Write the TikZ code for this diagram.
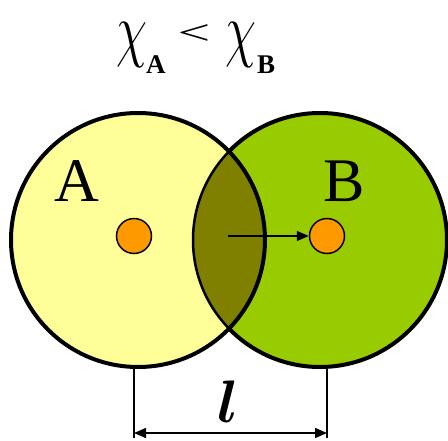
\RequirePackage{fix-cm}
\documentclass[tikz,border=0pt]{standalone}
\usepackage{amsmath}
\usepackage{fontspec}
\setmainfont{Liberation Serif}
\usetikzlibrary{arrows.meta,positioning}
\definecolor{paleyellow}{HTML}{FFFF99}
\definecolor{leafgreen}{HTML}{99CC00}
\definecolor{olivebrown}{HTML}{808000}
\definecolor{dotorange}{HTML}{FF9900}

\begin{document}
\begin{tikzpicture}[x=1pt,y=-1pt,
  nucleus/.style={circle, draw, fill=dotorange, line width=1.5pt, minimum size=35pt, inner sep=0pt},
  bigletter/.style={font=\fontsize{62}{62}\selectfont, inner sep=0pt},
  chiletter/.style={font=\fontsize{72}{72}\selectfont, inner sep=3pt, anchor=base west},
  subletter/.style={font=\fontsize{27}{27}\selectfont\bfseries, inner sep=0pt, anchor=base west},
  >={Triangle[length=12pt,width=10pt]}]
  \useasboundingbox (0,0) rectangle (448,440);
  % circle centres
  \coordinate (cA) at (138,240);
  \coordinate (cB) at (320,240);
  \fill[paleyellow] (cA) circle (127pt);
  \fill[leafgreen] (cB) circle (127pt);
  % overlap
  \begin{scope}
    \clip (cA) circle (127pt);
    \fill[olivebrown] (cB) circle (127pt);
    \draw[line width=2.5pt] (cB) circle (127pt);
  \end{scope}
  \begin{scope}[even odd rule]
    \clip (-20,-20) rectangle (470,460) (cA) circle (127pt);
    \draw[line width=4pt] (cB) circle (127pt);
  \end{scope}
  \draw[line width=4pt] (cA) circle (127pt);
  % atoms
  \node[nucleus] (nucA) at (134,236) {};
  \node[nucleus] (nucB) at (327,236) {};
  \node[bigletter] (labA) at (77,181) {A};
  \node[bigletter] (labB) at (344,181) {B};
  \coordinate (mid) at (228,236);
  \draw[line width=1.5pt, ->] (mid) -- (nucB.west);
  % distance
  \coordinate (topL) at (134,368);
  \coordinate (botL) at (134,438);
  \coordinate (topR) at (327,368);
  \coordinate (botR) at (327,438);
  \draw[line width=1.5pt] (topL) -- (botL);
  \draw[line width=1.5pt] (topR) -- (botR);
  \draw[line width=1.5pt, <->] (134,433) -- (327,433);
  \node[font=\fontsize{60}{60}\selectfont, inner sep=0pt] (len) at (228,402) {$\boldsymbol{l}$};
  % title
  \node[chiletter] (chiA) at (113,53) {\scalebox{0.7}[1]{$\chi$}};
  \node[subletter] (subA) at (146,73) {A};
  \node[font=\fontsize{58}{58}\selectfont, inner sep=0pt] (less) at (194,35) {\scalebox{1}[0.6]{<}};
  \node[chiletter] (chiB) at (222,53) {\scalebox{0.7}[1]{$\chi$}};
  \node[subletter] (subB) at (257,73) {B};
\end{tikzpicture}
\end{document}
